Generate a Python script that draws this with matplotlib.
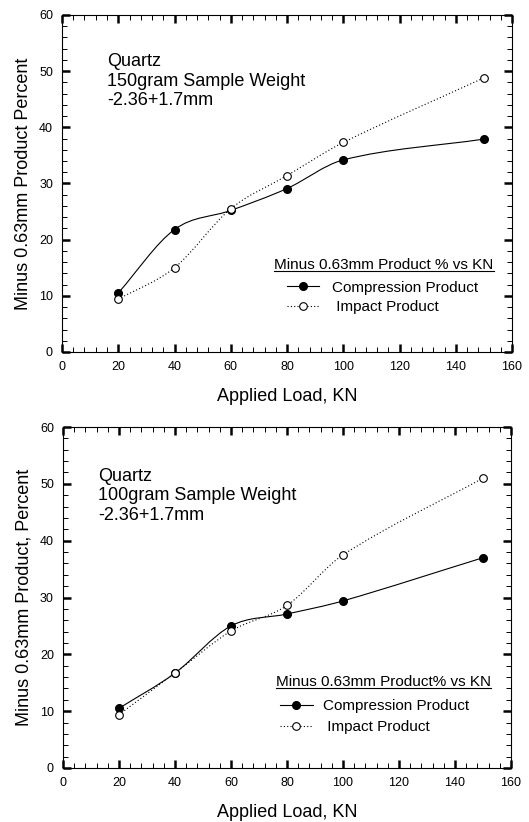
import numpy as np
import matplotlib
matplotlib.use("Agg")
import matplotlib.pyplot as plt
from matplotlib.path import Path
from matplotlib.patches import PathPatch
from matplotlib.lines import Line2D
from matplotlib.ticker import MultipleLocator

plt.rcParams['font.family'] = ['Liberation Sans', 'DejaVu Sans']

# data
load_kn = [20, 40, 60, 80, 100, 150]

comp_150g = [10.5, 21.8, 25.2, 29.1, 34.2, 37.9]
impact_150g = [9.4, 15.0, 25.5, 31.4, 37.3, 48.8]

comp_100g = [10.5, 16.7, 25.0, 27.1, 29.4, 37.0]
impact_100g = [9.4, 16.7, 24.1, 28.6, 37.5, 51.0]

panels = [
    dict(comp=comp_150g, imp=impact_150g,
         note="Quartz\n150gram Sample Weight\n-2.36+1.7mm",
         ylabel="Minus 0.63mm Product Percent",
         legtitle="Minus 0.63mm Product % vs KN",
         rect=[0.1172, 0.5718, 0.8507, 0.41],
         note_xy=(0.100, 0.888), title_xy=(0.472, 0.246),
         leg_xy=(0.499, 0.162), handlen=2.1, textpad=0.85, lspace=0.35),
    dict(comp=comp_100g, imp=impact_100g,
         note="Quartz\n100gram Sample Weight\n-2.36+1.7mm",
         ylabel="Minus 0.63mm Product, Percent",
         legtitle="Minus 0.63mm Product% vs KN",
         rect=[0.119, 0.0657, 0.8469, 0.4148],
         note_xy=(0.078, 0.881), title_xy=(0.475, 0.240),
         leg_xy=(0.484, 0.150), handlen=2.15, textpad=0.65, lspace=0.45),
]


def smooth_path(x, y):
    # cubic hermite segments through the points, as bezier curves
    x = np.asarray(x, float)
    y = np.asarray(y, float)
    n = len(x)
    m = np.zeros(n)
    m[0] = (y[1] - y[0]) / (x[1] - x[0])
    m[-1] = (y[-1] - y[-2]) / (x[-1] - x[-2])
    for i in range(1, n - 1):
        m[i] = (y[i + 1] - y[i - 1]) / (x[i + 1] - x[i - 1])
    verts = [(x[0], y[0])]
    codes = [Path.MOVETO]
    for i in range(n - 1):
        h = x[i + 1] - x[i]
        verts += [(x[i] + h / 3, y[i] + m[i] * h / 3),
                  (x[i + 1] - h / 3, y[i + 1] - m[i + 1] * h / 3),
                  (x[i + 1], y[i + 1])]
        codes += [Path.CURVE4] * 3
    return Path(verts, codes)


fig = plt.figure(figsize=(5.29, 8.22), dpi=100)
title_texts = []

for p in panels:
    ax = fig.add_axes(p["rect"])
    ax.add_patch(PathPatch(smooth_path(load_kn, p["comp"]), fill=False,
                           edgecolor='black', lw=0.8, zorder=2))
    ax.add_patch(PathPatch(smooth_path(load_kn, p["imp"]), fill=False,
                           edgecolor='black', lw=0.8, ls=(0, (1, 2)), zorder=2))
    ax.plot(load_kn, p["comp"], 'o', color='black', ms=5.5, zorder=3)
    ax.plot(load_kn, p["imp"], 'o', mfc='white', mec='black', mew=0.8,
            ms=5.5, zorder=4)

    ax.set_xlim(0, 160)
    ax.set_ylim(0, 60)
    ax.xaxis.set_major_locator(MultipleLocator(20))
    ax.xaxis.set_minor_locator(MultipleLocator(4))
    ax.yaxis.set_major_locator(MultipleLocator(10))
    ax.yaxis.set_minor_locator(MultipleLocator(2))
    ax.tick_params(which='both', direction='in', top=True, right=True,
                   labelsize=9, pad=6.5)
    ax.tick_params(which='major', length=6, width=1.8)
    ax.tick_params(which='minor', length=3.5, width=0.7)
    for s in ax.spines.values():
        s.set_linewidth(0.8)

    ax.set_xlabel("Applied Load, KN", fontsize=13, labelpad=11)
    ax.set_ylabel(p["ylabel"], fontsize=13, labelpad=5)

    ax.text(p["note_xy"][0], p["note_xy"][1], p["note"], transform=ax.transAxes,
            fontsize=13, va='top', ha='left', linespacing=1.22)

    t = ax.text(p["title_xy"][0], p["title_xy"][1], p["legtitle"],
                transform=ax.transAxes, fontsize=11, ha='left', va='baseline')
    title_texts.append((ax, t))

    handles = [Line2D([], [], color='black', lw=0.8, marker='o', ms=5.5),
               Line2D([], [], color='black', lw=0.8, ls=(0, (1, 2)), marker='o',
                      mfc='white', mec='black', mew=0.8, ms=5.5)]
    ax.legend(handles, ["Compression Product", " Impact Product"],
              loc='center left', bbox_to_anchor=p["leg_xy"], frameon=False,
              fontsize=11, handlelength=p["handlen"], handletextpad=p["textpad"],
              labelspacing=p["lspace"], borderaxespad=0, borderpad=0)

# underline the legend titles
fig.canvas.draw()
r = fig.canvas.get_renderer()
for ax, t in title_texts:
    bb = t.get_window_extent(r).transformed(fig.transFigure.inverted())
    y_ul = bb.y0 + 1.5 / 822
    fig.add_artist(Line2D([bb.x0, bb.x1], [y_ul, y_ul],
                          color='black', lw=0.8, transform=fig.transFigure))

fig.savefig("out.png", dpi=100)
